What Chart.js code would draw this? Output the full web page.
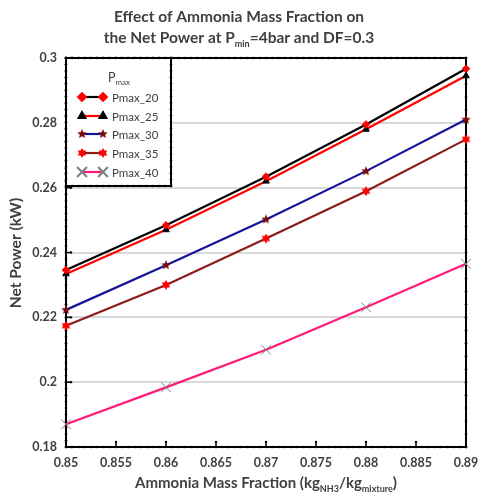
<!DOCTYPE html>
<html>
<head>
<meta charset="utf-8">
<script src="https://cdn.jsdelivr.net/npm/chart.js@4.4.1/dist/chart.umd.min.js"></script>
<style>
  html, body { margin: 0; padding: 0; background: #fff; }
  #wrap { width: 478px; height: 495px; }
</style>
</head>
<body>
<div id="wrap"><canvas id="grafico" width="478" height="495"></canvas></div>
<script>
// Ammonia mass fraction (x) and net power in kW for each Pmax
const massFraction = [0.85, 0.86, 0.87, 0.88, 0.89];
const pmax20 = [0.2346, 0.2484, 0.2634, 0.2795, 0.2967];
const pmax25 = [0.2334, 0.2470, 0.2620, 0.2780, 0.2945];
const pmax30 = [0.2223, 0.2361, 0.2502, 0.2651, 0.2810];
const pmax35 = [0.2174, 0.2300, 0.2443, 0.2589, 0.2749];
const pmax40 = [0.1870, 0.1984, 0.2100, 0.2231, 0.2365];
const seriesNames = ["Pmax_20", "Pmax_25", "Pmax_30", "Pmax_35", "Pmax_40"];

const xTicks = [0.85, 0.855, 0.86, 0.865, 0.87, 0.875, 0.88, 0.885, 0.89];
const yTicks = [0.18, 0.2, 0.22, 0.24, 0.26, 0.28, 0.3];

const FONT = "Lato";
const TXT = "#404040";

// filled star markers, drawn once onto small canvases
function starImage(points, size, color, inner) {
  const c = document.createElement("canvas");
  c.width = size; c.height = size;
  const g = c.getContext("2d");
  const r = size / 2, ri = r * inner;
  g.beginPath();
  for (let i = 0; i < points * 2; i++) {
    const a = -Math.PI / 2 + i * Math.PI / points;
    const rr = i % 2 === 0 ? r : ri;
    g.lineTo(r + rr * Math.cos(a), r + rr * Math.sin(a));
  }
  g.closePath();
  g.fillStyle = color;
  g.fill();
  return c;
}
const star5 = starImage(5, 10, "#7a0c0c", 0.45);
const star6 = starImage(6, 10, "#ff0000", 0.58);

function pts(ys) {
  return massFraction.map((x, i) => ({ x: x, y: ys[i] }));
}

const datasets = [
  { label: seriesNames[0], data: pts(pmax20), borderColor: "#000000",
    pointStyle: "rectRot", pointRadius: 3.8, pointBackgroundColor: "#ff0000", pointBorderColor: "#ff0000", pointBorderWidth: 1 },
  { label: seriesNames[1], data: pts(pmax25), borderColor: "#ff0000",
    pointStyle: "triangle", pointRadius: 3.8, pointBackgroundColor: "#000000", pointBorderColor: "#000000", pointBorderWidth: 1 },
  { label: seriesNames[2], data: pts(pmax30), borderColor: "#14149a",
    pointStyle: star5, pointRadius: 5, pointBackgroundColor: "#7a0c0c", pointBorderColor: "#7a0c0c", pointBorderWidth: 0 },
  { label: seriesNames[3], data: pts(pmax35), borderColor: "#8a1c1c",
    pointStyle: star6, pointRadius: 5, pointBackgroundColor: "#ff0000", pointBorderColor: "#ff0000", pointBorderWidth: 0 },
  { label: seriesNames[4], data: pts(pmax40), borderColor: "#ff1a7a",
    pointStyle: "crossRot", pointRadius: 7, pointBackgroundColor: "#808080", pointBorderColor: "#808080", pointBorderWidth: 1 },
].map(d => Object.assign(d, { borderWidth: 2.2, tension: 0, fill: false, clip: false, pointHoverRadius: d.pointRadius }));

// text with subscripts: parts = [[text, isSub], ...]
function drawRich(ctx, parts, x, y, size, weight, align) {
  const main = `${weight} ${size}px ${FONT}`;
  const sub = `${weight} ${Math.round(size * 0.6)}px ${FONT}`;
  let w = 0;
  parts.forEach(p => { ctx.font = p[1] ? sub : main; w += ctx.measureText(p[0]).width; });
  let cx = align === "center" ? x - w / 2 : x;
  ctx.textAlign = "left";
  ctx.textBaseline = "alphabetic";
  parts.forEach(p => {
    ctx.font = p[1] ? sub : main;
    ctx.fillText(p[0], cx, p[1] ? y + size * 0.25 : y);
    cx += ctx.measureText(p[0]).width;
  });
}

// beaded black line used for the plot frame and the legend box
function beadLine(ctx, x1, y1, x2, y2, step) {
  ctx.save();
  ctx.strokeStyle = "#000";
  ctx.fillStyle = "#000";
  ctx.lineWidth = 2;
  ctx.beginPath();
  ctx.moveTo(x1, y1);
  ctx.lineTo(x2, y2);
  ctx.stroke();
  const len = Math.hypot(x2 - x1, y2 - y1);
  const n = Math.round(len / step);
  for (let i = 0; i <= n; i++) {
    const t = i / n;
    ctx.beginPath();
    ctx.arc(x1 + (x2 - x1) * t, y1 + (y2 - y1) * t, 1.3, 0, Math.PI * 2);
    ctx.fill();
  }
  ctx.restore();
}

const framePlugin = {
  id: "frame",
  beforeDatasetsDraw(chart) {
    const { ctx, chartArea: a, scales } = chart;
    const xs = scales.x, ys = scales.y;
    const xStep = (xs.getPixelForValue(0.855) - xs.getPixelForValue(0.85)) / 8;
    const yStep = (ys.getPixelForValue(0.2) - ys.getPixelForValue(0.22)) / 10;
    beadLine(ctx, a.left, a.bottom, a.right, a.bottom, xStep);
    beadLine(ctx, a.left, a.top, a.right, a.top, xStep);
    beadLine(ctx, a.left, a.top, a.left, a.bottom, yStep);
    beadLine(ctx, a.right, a.top, a.right, a.bottom, yStep * 2);
    // inward major ticks
    ctx.save();
    ctx.strokeStyle = "#000";
    ctx.fillStyle = "#000";
    ctx.lineWidth = 1.5;
    xTicks.forEach(v => {
      const px = xs.getPixelForValue(v);
      ctx.beginPath(); ctx.moveTo(px, a.bottom); ctx.lineTo(px, a.bottom - 5); ctx.stroke();
      ctx.beginPath(); ctx.arc(px, a.bottom - 5, 1.2, 0, Math.PI * 2); ctx.fill();
    });
    yTicks.forEach(v => {
      const py = ys.getPixelForValue(v);
      ctx.beginPath(); ctx.moveTo(a.left, py); ctx.lineTo(a.left + 5, py); ctx.stroke();
      ctx.beginPath(); ctx.arc(a.left + 5, py, 1.2, 0, Math.PI * 2); ctx.fill();
    });
    ctx.restore();
  },
  afterDraw(chart) {
    const { ctx, chartArea: a } = chart;
    ctx.save();
    ctx.fillStyle = TXT;
    // chart title
    drawRich(ctx, [["Effect of Ammonia Mass Fraction on", false]], 239, 22, 15.5, "bold", "center");
    drawRich(ctx, [["the Net Power at P", false], ["min", true], ["=4bar and DF=0.3", false]], 239, 43, 15.5, "bold", "center");
    // axis titles
    drawRich(ctx, [["Ammonia Mass Fraction (kg", false], ["NH3", true], ["/kg", false], ["mixture", true], [")", false]],
      (a.left + a.right) / 2, 488, 15, "bold", "center");
    ctx.save();
    ctx.translate(21, 253);
    ctx.rotate(-Math.PI / 2);
    drawRich(ctx, [["Net Power (kW)", false]], 0, 0, 15.5, "bold", "center");
    ctx.restore();

    // legend box in the top-left corner of the plot
    const bx = a.left, by = a.top, bw = 105, bh = 128;
    ctx.fillStyle = "#fff";
    ctx.fillRect(bx + 1, by + 1, bw - 1, bh - 1);
    beadLine(ctx, bx, by + bh, bx + bw, by + bh, 6.3);
    beadLine(ctx, bx + bw, by, bx + bw, by + bh, 6.3);
    beadLine(ctx, bx, by, bx + bw, by, 6.3);
    beadLine(ctx, bx, by, bx, by + bh, 6.3);
    ctx.fillStyle = TXT;
    drawRich(ctx, [["P", false], ["max", true]], bx + 42, by + 24, 12.5, "normal", "left");

    const rowY = [39, 58, 76, 95, 114];
    chart.data.datasets.forEach((d, i) => {
      const y = by + rowY[i];
      const x1 = bx + 16, x2 = bx + 37;
      ctx.strokeStyle = d.borderColor;
      ctx.lineWidth = 2.2;
      ctx.beginPath(); ctx.moveTo(x1, y); ctx.lineTo(x2, y); ctx.stroke();
      [x1, x2].forEach(px => {
        ctx.fillStyle = d.pointBackgroundColor;
        ctx.strokeStyle = d.pointBorderColor;
        Chart.helpers.drawPoint(ctx, {
          pointStyle: d.pointStyle, radius: d.pointRadius, rotation: 0, borderWidth: d.pointBorderWidth
        }, px, y);
      });
      ctx.fillStyle = TXT;
      ctx.font = `11.5px ${FONT}`;
      ctx.textAlign = "left";
      ctx.textBaseline = "middle";
      ctx.fillText(d.label, bx + 46, y + 1);
    });
    ctx.restore();
  }
};

const fmt = v => String(+v.toFixed(3));

new Chart(document.getElementById("grafico"), {
  type: "line",
  data: { datasets: datasets },
  plugins: [framePlugin],
  options: {
    responsive: false,
    animation: false,
    layout: { padding: { top: 58, right: 12, left: 0, bottom: 0 } },
    plugins: { legend: { display: false }, title: { display: false }, tooltip: { enabled: false } },
    scales: {
      x: {
        type: "linear", min: 0.85, max: 0.89,
        afterBuildTicks: s => { s.ticks = xTicks.map(v => ({ value: v })); },
        // keep the last tick label from shrinking the plot area
        afterFit: s => { s.height = 48; s.paddingLeft = 0; s.paddingRight = 0; },
        ticks: { callback: fmt, color: TXT, padding: 8, maxRotation: 0, autoSkip: false,
                 font: { family: FONT, size: 12.5, weight: "bold" } },
        grid: { display: false, drawTicks: false },
        border: { display: false }
      },
      y: {
        type: "linear", min: 0.18, max: 0.3,
        afterBuildTicks: s => { s.ticks = yTicks.map(v => ({ value: v })); },
        afterFit: s => { s.width = 66; s.paddingTop = 0; s.paddingBottom = 0; },
        ticks: { callback: fmt, color: TXT, padding: 9,
                 font: { family: FONT, size: 12.5, weight: "bold" } },
        grid: { color: "#d9d9d9", lineWidth: 2, drawTicks: false },
        border: { display: false }
      }
    }
  }
});
</script>
</body>
</html>
